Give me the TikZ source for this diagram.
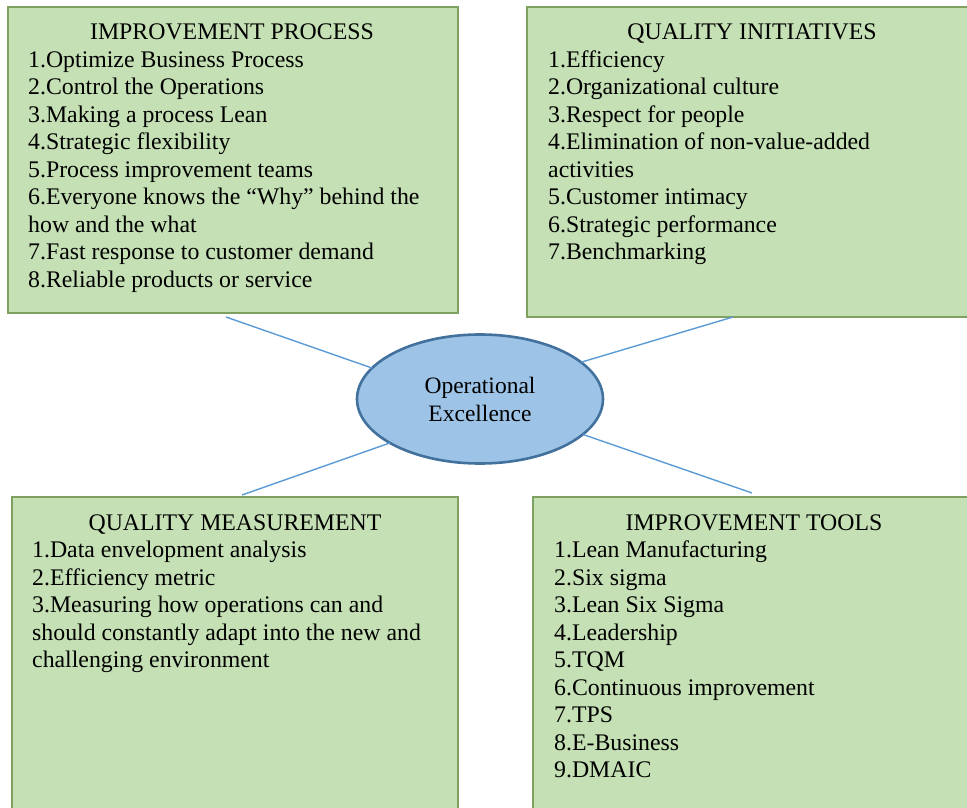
\documentclass[tikz,border=0pt]{standalone}
\usepackage{fontspec}
\setmainfont{Liberation Serif}
\usetikzlibrary{shapes.geometric}

\definecolor{boxfill}{HTML}{C5E0B4}
\definecolor{boxline}{HTML}{7EA15F}
\definecolor{hubfill}{HTML}{9DC3E6}
\definecolor{hubline}{HTML}{41719C}
\definecolor{linkline}{HTML}{5B9BD5}

% numbered lines, baseline of the block = baseline of its first line
\newcommand{\linesblock}[1]{\parbox[t]{520pt}{\raggedright #1}}

\begin{document}
\begin{tikzpicture}[x=1pt, y=-1pt,
  every node/.style={font=\fontsize{23.8}{27.5}\selectfont, text=black},
  panel/.style={draw=boxline, fill=boxfill, line width=2pt, rectangle,
    inner sep=0pt, outer sep=0pt, anchor=north west},
  heading/.style={anchor=base, inner sep=0pt},
  entries/.style={anchor=base west, inner sep=0pt},
  hub/.style={ellipse, draw=hubline, fill=hubfill, line width=2.6pt,
    minimum width=246pt, minimum height=129pt, inner sep=0pt, outer sep=0pt,
    align=center, font=\fontsize{23.5}{28}\selectfont},
  link/.style={draw=linkline, line width=1.4pt}]

\useasboundingbox (0,0) rectangle (967,808);
\clip (0,0) rectangle (967,808);

% four panels
\node[panel, minimum width=450pt, minimum height=306pt] (procbox) at (8,7) {};
\node[panel, minimum width=453pt, minimum height=310pt] (initbox) at (527,7) {};
\node[panel, minimum width=446pt, minimum height=320pt] (measbox) at (12,497) {};
\node[panel, minimum width=447pt, minimum height=320pt] (toolbox) at (533,497) {};

% improvement process
\node[heading] (proctitle) at (232,40) {IMPROVEMENT PROCESS};
\node[entries] (proclist) at (28,67.5) {\linesblock{%
1.Optimize Business Process\\
2.Control the Operations\\
3.Making a process Lean\\
4.Strategic flexibility\\
5.Process improvement teams\\
6.Everyone knows the “Why” behind the\\
how and the what\\
7.Fast response to customer demand\\
8.Reliable products or service}};

% quality initiatives
\node[heading] (inittitle) at (752,40) {QUALITY INITIATIVES};
\node[entries] (initlist) at (548,67.5) {\linesblock{%
1.Efficiency\\
2.Organizational culture\\
3.Respect for people\\
4.Elimination of non-value-added\\
activities\\
5.Customer intimacy\\
6.Strategic performance\\
7.Benchmarking}};

% quality measurement
\node[heading] (meastitle) at (235,530) {QUALITY MEASUREMENT};
\node[entries] (measlist) at (32,557.5) {\linesblock{%
1.Data envelopment analysis\\
2.Efficiency metric\\
3.Measuring how operations can and\\
should constantly adapt into the new and\\
challenging environment}};

% improvement tools
\node[heading] (tooltitle) at (754,530) {IMPROVEMENT TOOLS};
\node[entries] (toollist) at (554,557.5) {\linesblock{%
1.Lean Manufacturing\\
2.Six sigma\\
3.Lean Six Sigma\\
4.Leadership\\
5.TQM\\
6.Continuous improvement\\
7.TPS\\
8.E-Business\\
9.DMAIC}};

% central hub
\node[hub] (hub) at (480,399) {Operational\\Excellence};

% spokes, ending just short of each panel
\coordinate (procend) at (226,317);
\coordinate (initend) at (733,317);
\coordinate (measend) at (242,495);
\coordinate (toolend) at (752,493);

\draw[link] (hub.164) -- (procend);
\draw[link] (hub.20) -- (initend);
\draw[link] (hub.206) -- (measend);
\draw[link] (hub.341) -- (toolend);

\end{tikzpicture}
\end{document}
